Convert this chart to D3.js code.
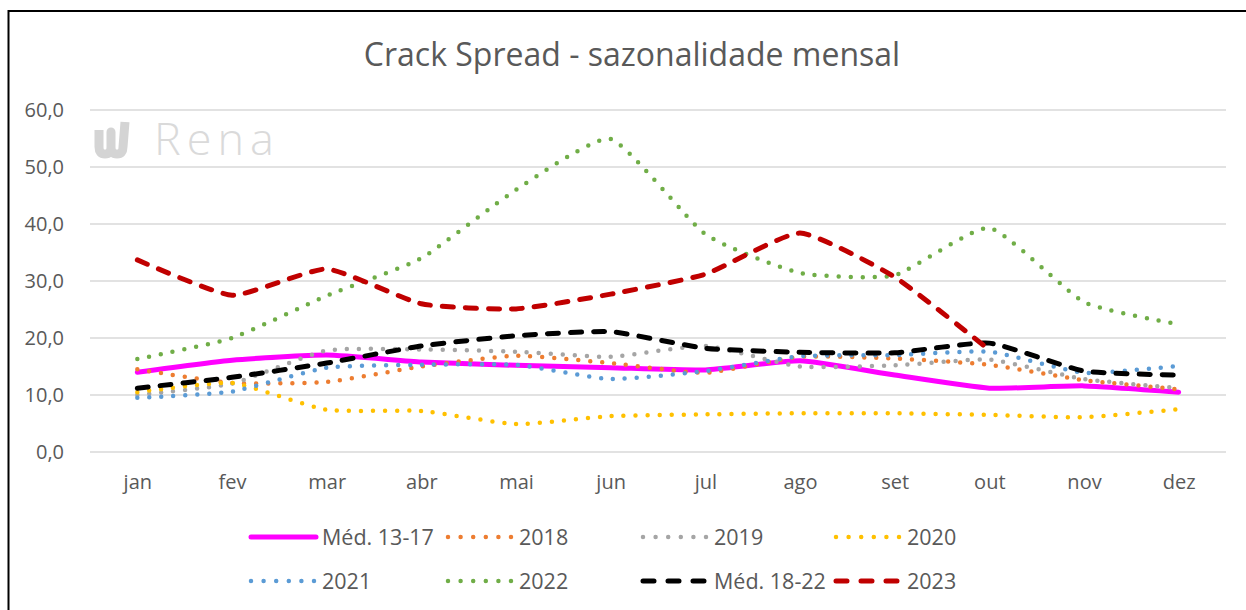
<!DOCTYPE html>
<html>
<head>
<meta charset="utf-8">
<script src="https://cdn.jsdelivr.net/npm/d3@7"></script>
<style>
  body { margin: 0; background: #fff; }
  text { font-family: 'Open Sans', sans-serif; fill: #595959; }
</style>
</head>
<body>
<div id="viz"></div>
<script>
const width = 1246;
const height = 610;
const margin = {top: 110, right: 20, bottom: 158, left: 90};

const months = ['jan', 'fev', 'mar', 'abr', 'mai', 'jun', 'jul', 'ago', 'set', 'out', 'nov', 'dez'];
const yTicks = [0, 10, 20, 30, 40, 50, 60];

// Series values
const med1317 = [14.0, 16.1, 17.0, 15.8, 15.2, 14.8, 14.4, 16.0, 13.5, 11.2, 11.6, 10.5];
const y2018 = [14.5, 12.1, 12.3, 15.0, 16.9, 15.6, 13.9, 16.7, 16.4, 15.3, 12.6, 11.0];
const y2019 = [10.0, 12.0, 17.8, 18.0, 17.6, 16.7, 18.6, 15.0, 15.2, 16.2, 12.8, 11.2];
const y2020 = [10.5, 12.1, 7.4, 7.2, 4.9, 6.3, 6.6, 6.8, 6.8, 6.5, 6.1, 7.5];
const y2021 = [9.5, 10.6, 14.8, 15.3, 15.3, 12.8, 14.2, 16.8, 17.0, 17.6, 13.9, 15.1];
const y2022 = [16.3, 20.0, 27.4, 34.0, 46.0, 54.9, 38.2, 31.4, 31.0, 39.3, 26.3, 22.4];
const med1822 = [11.2, 13.1, 15.6, 18.6, 20.4, 21.1, 18.2, 17.5, 17.4, 19.1, 14.2, 13.5];
const y2023 = [33.7, 27.5, 32.1, 26.0, 25.1, 27.7, 31.2, 38.4, 30.7, 17.9];

const series = [
  {name: 'Méd. 13-17', values: med1317, color: '#ff00ff', style: 'solid'},
  {name: '2018', values: y2018, color: '#ed7d31', style: 'dot'},
  {name: '2019', values: y2019, color: '#a5a5a5', style: 'dot'},
  {name: '2020', values: y2020, color: '#ffc000', style: 'dot'},
  {name: '2021', values: y2021, color: '#5b9bd5', style: 'dot'},
  {name: '2022', values: y2022, color: '#70ad47', style: 'dot'},
  {name: 'Méd. 18-22', values: med1822, color: '#000000', style: 'dash'},
  {name: '2023', values: y2023, color: '#c00000', style: 'dash'}
];

const svg = d3.select('#viz')
  .append('svg')
    .attr('width', width)
    .attr('height', height);

// Chart frame
svg.append('rect')
  .attr('x', 8.5)
  .attr('y', 11)
  .attr('width', width + 20)
  .attr('height', height + 20)
  .attr('fill', '#fff')
  .attr('stroke', '#000')
  .attr('stroke-width', 2);

// Title
svg.append('text')
  .attr('x', 632)
  .attr('y', 66)
  .attr('text-anchor', 'middle')
  .style('font-size', '32px')
  .text('Crack Spread - sazonalidade mensal');

// Scales
const xScale = d3.scalePoint()
  .domain(months)
  .range([margin.left, width - margin.right])
  .padding(0.5);
const yScale = d3.scaleLinear()
  .domain([0, 60])
  .range([height - margin.bottom, margin.top]);

// Gridlines
svg.append('g')
    .attr('class', 'grid')
  .selectAll('line')
  .data(yTicks)
  .join('line')
    .attr('x1', margin.left)
    .attr('x2', width - margin.right)
    .attr('y1', d => yScale(d))
    .attr('y2', d => yScale(d))
    .attr('stroke', '#d9d9d9')
    .attr('stroke-width', 1.5);

// Watermark
const logo = svg.append('g')
  .attr('transform', `translate(${margin.left + 3}, 118)`);
logo.append('path')
  .attr('d', 'M6,12 L6,29 Q6,36 12,36 Q18,36 18,29 L18,14 L18,29 Q18,36 24,36 Q30,36 30,29 L32,4')
  .attr('fill', 'none')
  .attr('stroke', '#d4d4d4')
  .attr('stroke-width', 9)
  .attr('stroke-linejoin', 'round');
logo.append('text')
  .attr('x', 61)
  .attr('y', 37)
  .style('font-size', '45px')
  .style('font-weight', 300)
  .style('letter-spacing', '6px')
  .style('fill', '#dadada')
  .text('Rena');

// Axes
const yAxis = d3.axisLeft(yScale)
  .tickValues(yTicks)
  .tickSize(0)
  .tickFormat(d => d3.format('.1f')(d).replace('.', ','));
svg.append('g')
    .attr('transform', `translate(${margin.left - 23}, 0)`)
    .style('font-size', '20px')
  .call(yAxis)
  .call(g => g.select('.domain').remove())
  .call(g => g.selectAll('text').attr('fill', '#595959').attr('font-family', null));

const xAxis = d3.axisBottom(xScale).tickSize(0);
svg.append('g')
    .attr('transform', `translate(0, ${height - margin.bottom + 20})`)
    .style('font-size', '20px')
  .call(xAxis)
  .call(g => g.select('.domain').remove())
  .call(g => g.selectAll('text').attr('fill', '#595959').attr('font-family', null));

// Line styling helpers
const strokeStyle = (sel, d) => {
  if (d.style === 'dot') {
    sel.attr('stroke-width', 4.5).attr('stroke-dasharray', '0,12').attr('stroke-linecap', 'round');
  } else if (d.style === 'dash') {
    sel.attr('stroke-width', 5).attr('stroke-dasharray', '11,12').attr('stroke-linecap', 'round');
  } else {
    sel.attr('stroke-width', 5).attr('stroke-linecap', 'round');
  }
};

const lineGenerator = d3.line()
  .x((d, i) => xScale(months[i]))
  .y(d => yScale(d))
  .curve(d3.curveCardinal.tension(0.5));

const lines = svg.append('g').attr('class', 'lines');
series.forEach(s => {
  lines.append('path')
    .attr('d', lineGenerator(s.values))
    .attr('fill', 'none')
    .attr('stroke', s.color)
    .call(strokeStyle, s);
});

// Legend
const legendCols = [248, 445, 640, 833];
const legendRows = [537, 581];
const legend = svg.append('g').attr('class', 'legend');
series.forEach((s, i) => {
  const x = legendCols[i % 4];
  const y = legendRows[Math.floor(i / 4)];
  const item = legend.append('g');
  const sym = item.append('line')
    .attr('x1', x + 3)
    .attr('x2', x + 68)
    .attr('y1', y)
    .attr('y2', y)
    .attr('stroke', s.color)
    .call(strokeStyle, s);
  if (s.style === 'dot') sym.attr('stroke-dasharray', '0,12.6');
  if (s.style === 'dash') sym.attr('stroke-dasharray', '11,14');
  item.append('text')
    .attr('x', x + 74)
    .attr('y', y)
    .attr('dy', '0.35em')
    .style('font-size', '21.5px')
    .text(s.name);
});
</script>
</body>
</html>
